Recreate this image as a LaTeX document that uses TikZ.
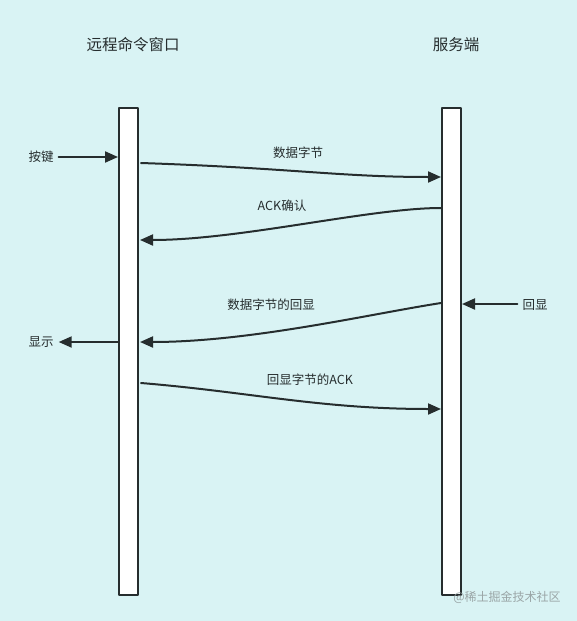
\documentclass[tikz,border=0pt]{standalone}
\usepackage{fontspec}
\usepackage{tikz}
\usetikzlibrary{arrows.meta}
\usetikzlibrary{positioning}
\newfontfamily\cjk{Noto Sans CJK SC}
\definecolor{bgcyan}{HTML}{D9F3F4}
\definecolor{inkdark}{HTML}{262D2E}
\definecolor{markgrey}{HTML}{9AA5A6}
\tikzset{
  lifeline/.style={draw=inkdark,line width=2pt,fill=white,minimum width=19pt,minimum height=487pt,inner sep=0pt},
  msg/.style={draw=inkdark,line width=2pt,-{Triangle[length=13pt,width=11pt]}},
  lbl/.style={text=inkdark,font=\cjk\fontsize{12.5}{14}\selectfont,inner sep=0pt},
  ttl/.style={text=inkdark,font=\cjk\fontsize{15.5}{18}\selectfont,inner sep=0pt}
}
\begin{document}
\begin{tikzpicture}[x=1pt,y=-1pt,line cap=round,line join=round]
\fill[bgcyan] (0,0) rectangle (577,621);
\useasboundingbox (0,0) rectangle (577,621);
\node[ttl] (tclient) at (133,45) {远程命令窗口};
\node[ttl] (tserver) at (456,45) {服务端};
\node[lifeline] (client) at (128.5,351.5) {};
\node[lifeline] (server) at (451.5,351.5) {};
\node[lbl] (key) at (41,157) {按键};
\node[lbl] (show) at (41,342) {显示};
\node[lbl] (echo) at (535,305) {回显};
\node[lbl] (l1) at (298,153) {数据字节};
\node[lbl] (l2) at (282,206) {ACK确认};
\node[lbl] (l3) at (271,305) {数据字节的回显};
\node[lbl] (l4) at (310,380) {回显字节的ACK};
\node[font=\cjk\fontsize{12}{14}\selectfont,text=markgrey,inner sep=0pt] (mark) at (507,597) {@稀土掘金技术社区};
\coordinate (a0) at (client.west |- key);
\coordinate (a1) at (141,163);
\coordinate (b1) at (server.west |- 0,177);
\coordinate (b2) at (server.west |- 0,208);
\coordinate (a2) at (140,240);
\coordinate (b3) at (server.west |- 0,303);
\coordinate (a3) at (140,342);
\coordinate (s0) at (server.east |- 0,304);
\coordinate (c0) at (client.west |- show);
\coordinate (a4) at (141,383);
\coordinate (b4) at (server.west |- 0,409);
\draw[msg] (key.east)+(5,0) -- (a0);
\draw[msg] (a1) .. controls (290,168) and (340,177) .. (b1);
\draw[msg] (b2) .. controls (370,208) and (240,240) .. (a2);
\draw[msg] (b3) .. controls (370,314) and (250,342) .. (a3);
\draw[msg] (echo.west)+(-5,-1) -- (s0);
\draw[msg] (c0) -- ([xshift=5pt]show.east);
\draw[msg] (a4) .. controls (250,392) and (320,409) .. (b4);
\end{tikzpicture}
\end{document}
